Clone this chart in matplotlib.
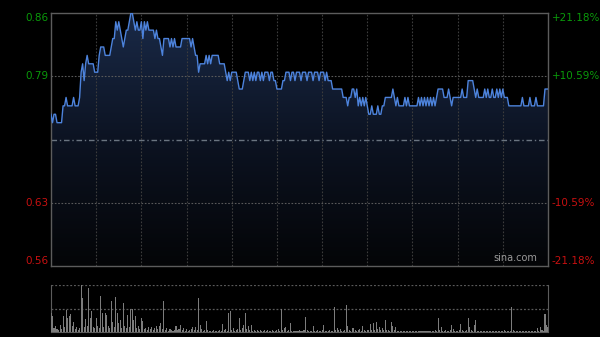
import numpy as np
import matplotlib
matplotlib.use('Agg')
import matplotlib.pyplot as plt
from matplotlib.colors import LinearSegmentedColormap

# intraday minute prices (in HK cents), 9:30-16:00 without lunch break
price_cents = [
    74, 73, 74, 74, 73, 73, 73, 73, 75, 75, 76, 75, 75, 75, 75, 76, 75, 75, 75, 76,
    79, 80, 78, 80, 81, 80, 80, 80, 80, 79, 79, 79, 81, 82, 82, 82, 81, 81, 81, 81,
    82, 83, 83, 85, 84, 85, 84, 83, 82, 83, 84, 84, 85, 86, 86, 85, 84, 85, 84, 84,
    85, 83, 85, 84, 85, 84, 84, 84, 84, 83, 84, 83, 83, 82, 81, 83, 83, 83, 83, 82,
    83, 82, 83, 82, 82, 82, 82, 83, 83, 83, 83, 83, 83, 82, 83, 82, 81, 81, 79, 80,
    80, 80, 80, 81, 80, 81, 80, 81, 81, 81, 81, 81, 80, 80, 80, 80, 79, 78, 79, 78,
    79, 79, 79, 79, 78, 77, 77, 77, 78, 79, 79, 79, 78, 79, 78, 79, 78, 79, 79, 78,
    79, 78, 79, 79, 79, 78, 79, 79, 78, 78, 77, 77, 77, 77, 78, 78, 79, 79, 79, 78,
    79, 79, 78, 79, 79, 79, 78, 79, 79, 79, 78, 79, 79, 79, 78, 79, 79, 79, 78, 79,
    79, 79, 78, 79, 78, 78, 78, 77, 77, 77, 77, 77, 77, 77, 76, 76, 76, 75, 76, 76,
    77, 77, 76, 77, 75, 76, 75, 76, 75, 76, 75, 74, 74, 75, 74, 74, 74, 75, 74, 74,
    75, 75, 76, 76, 76, 76, 76, 77, 76, 75, 76, 75, 75, 75, 75, 76, 75, 76, 75, 75,
    75, 75, 75, 75, 76, 75, 76, 75, 76, 75, 76, 75, 76, 75, 76, 75, 76, 77, 77, 77,
    77, 76, 76, 76, 77, 76, 75, 76, 76, 76, 76, 76, 76, 77, 76, 76, 76, 78, 78, 78,
    78, 77, 76, 77, 76, 76, 76, 76, 77, 76, 77, 76, 76, 77, 76, 76, 77, 76, 77, 76,
    77, 76, 76, 76, 75, 75, 75, 75, 75, 75, 75, 75, 75, 76, 75, 75, 75, 75, 76, 75,
    75, 75, 76, 75, 75, 75, 75, 75, 77, 77, 77,
]

volume = [
    40, 33, 8, 12, 6, 5, 15, 6, 33, 10, 47, 30, 33, 39, 12, 22, 6, 10, 5, 8,
    100, 72, 10, 27, 12, 93, 30, 44, 10, 8, 30, 12, 8, 77, 40, 10, 40, 37, 12, 8,
    67, 22, 10, 75, 40, 19, 26, 8, 61, 12, 8, 37, 10, 50, 48, 26, 33, 8, 13, 6,
    30, 23, 6, 8, 5, 10, 6, 10, 5, 8, 13, 6, 13, 19, 6, 65, 4, 8, 3, 6,
    4, 3, 5, 12, 4, 6, 15, 4, 8, 3, 6, 3, 4, 6, 10, 4, 10, 5, 72, 15,
    6, 3, 4, 23, 5, 3, 2, 3, 4, 2, 3, 2, 4, 3, 18, 4, 6, 3, 40, 44,
    5, 8, 3, 4, 6, 30, 5, 8, 15, 40, 6, 12, 4, 15, 3, 5, 2, 4, 3, 5,
    2, 3, 4, 2, 5, 3, 2, 4, 3, 2, 4, 6, 3, 50, 4, 8, 10, 3, 4, 19,
    3, 2, 3, 2, 3, 4, 2, 3, 5, 32, 4, 3, 2, 3, 12, 3, 2, 5, 3, 2,
    4, 15, 3, 2, 3, 4, 2, 3, 53, 5, 8, 4, 6, 3, 2, 4, 58, 12, 5, 3,
    8, 8, 4, 3, 5, 6, 3, 13, 4, 3, 5, 4, 18, 5, 19, 4, 21, 6, 10, 4,
    8, 5, 26, 4, 5, 3, 21, 12, 4, 10, 3, 2, 3, 2, 3, 2, 3, 2, 3, 2,
    3, 2, 3, 2, 3, 2, 3, 2, 3, 2, 3, 2, 3, 2, 3, 4, 3, 30, 5, 10,
    3, 2, 4, 2, 3, 4, 15, 6, 3, 2, 3, 4, 18, 5, 3, 2, 4, 30, 10, 4,
    3, 15, 26, 3, 2, 3, 2, 3, 2, 3, 2, 3, 2, 3, 2, 3, 2, 3, 2, 3,
    2, 5, 2, 3, 2, 3, 53, 4, 2, 3, 2, 2, 3, 2, 2, 3, 2, 2, 3, 2,
    3, 2, 3, 8, 3, 10, 5, 3, 39, 15, 10,
]

prev_close = 0.71
pct_levels = [0.2118, 0.1059, -0.1059, -0.2118]
pct_labels = ['+21.18%', '+10.59%', '-10.59%', '-21.18%']

prices = np.array(price_cents) / 100.0
minutes = np.arange(len(prices))
n_min = 330

bg = '#000000'
green = '#0a9a0a'
red = '#c81010'

fig = plt.figure(figsize=(6, 3.37), dpi=100, facecolor=bg)
ax = fig.add_axes([51 / 600, 1 - 266 / 337, 497 / 600, 253 / 337])
ax.set_facecolor(bg)
ymax = prev_close * (1 + pct_levels[0])
ymin = prev_close * (1 + pct_levels[-1])
ax.set_xlim(0, n_min)
ax.set_ylim(ymin, ymax)

# gradient fill under the line
cmap = LinearSegmentedColormap.from_list('g', ['#040507', '#0c1322', '#1a2a48'])
grad = np.linspace(0, 1, 256).reshape(-1, 1)
im = ax.imshow(grad, aspect='auto', cmap=cmap, origin='lower',
               extent=[0, n_min, ymin, ymax], zorder=1)
poly = ax.fill_between(minutes, prices, ymin, color='none', lw=0)
im.set_clip_path(poly.get_paths()[0], transform=ax.transData)

# grid
for k in range(1, 11):
    ax.axvline(k * 30, color='#3c3c3c', lw=0.8, ls=(0, (1.5, 1.5)), zorder=2)
for lvl in [pct_levels[1], pct_levels[2]]:
    ax.axhline(prev_close * (1 + lvl), color='#5a5a5a', lw=0.8,
               ls=(0, (1.5, 1.5)), zorder=2)
ax.axhline(prev_close, color='#6a7480', lw=1.0, ls=(0, (4, 2, 1, 2)), zorder=2)

ax.plot(minutes, prices, color='#4d83dc', lw=1.0, zorder=3)

for sp in ax.spines.values():
    sp.set_color('#5c5c5c')
    sp.set_linewidth(1.0)
ax.set_xticks([])
ax.set_yticks([])

# price and percent labels
vas = ['top', 'center', 'center', 'bottom']
for lvl, lab, va in zip(pct_levels, pct_labels, vas):
    p = prev_close * (1 + lvl)
    col = green if lvl > 0 else red
    ax.text(-0.006, p, f'{p:.2f}', transform=ax.get_yaxis_transform(),
            ha='right', va=va, color=col, fontsize=7.5, family='DejaVu Sans')
    ax.text(1.008, p, lab, transform=ax.get_yaxis_transform(),
            ha='left', va=va, color=col, fontsize=7.5, family='DejaVu Sans')

ax.text(0.978, 0.012, 'sina.com', transform=ax.transAxes, ha='right',
        va='bottom', color='#9a9a9a', fontsize=7)

# volume panel
vax = fig.add_axes([51 / 600, 1 - 332 / 337, 497 / 600, 47 / 337])
vax.set_facecolor(bg)
vax.set_xlim(0, n_min)
vmax = max(volume)
vax.set_ylim(0, vmax)
vax.bar(minutes, volume, width=0.7, color='#7c7c7c', lw=0, zorder=3)
vax.axhline(vmax, color='#5a5a5a', lw=0.9, ls=(0, (1.5, 1.5)), zorder=2)
vax.axhline(vmax / 2, color='#5a5a5a', lw=0.9, ls=(0, (1.5, 1.5)), zorder=2)
vax.spines['top'].set_visible(False)
for side in ['left', 'right', 'bottom']:
    vax.spines[side].set_color('#5c5c5c')
vax.set_xticks([])
vax.set_yticks([])

fig.savefig('out.png', dpi=100, facecolor=bg)
